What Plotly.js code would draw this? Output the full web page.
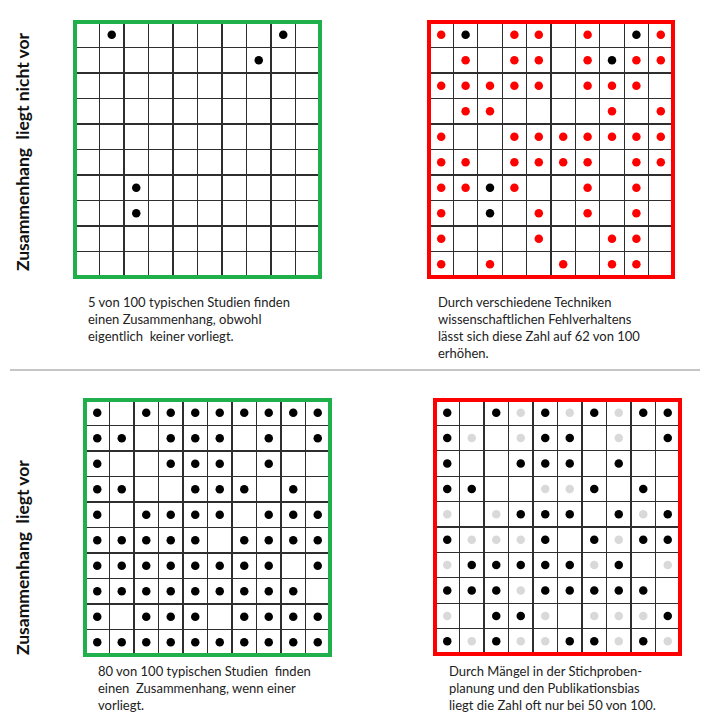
<!DOCTYPE html>
<html>
<head>
<meta charset="utf-8">
<script src="https://cdn.plot.ly/plotly-3.0.1.min.js"></script>
<style>html,body{margin:0;padding:0;background:#fff;}#chart{width:714px;height:725px;}</style>
</head>
<body>
<div id="chart"></div>
<script>
// Cell codes: "." empty, "B" black dot, "R" red dot, "G" grey dot (rows top to bottom)
const gridNoEffectTypical = [
  ".B......B.",
  ".......B..",
  "..........",
  "..........",
  "..........",
  "..........",
  "..B.......",
  "..B.......",
  "..........",
  ".........."
];
const gridNoEffectMisconduct = [
  "RB.RR.R.BR",
  ".R.RR.RBRR",
  "RRRRR.RRR.",
  ".RR....R.R",
  "R..RRRRRRR",
  "RR.RRRR.RR",
  "RRBR..R.R.",
  "R.B.R.R.R.",
  "R...R..RR.",
  "R.R..R.RR."
];
const gridEffectTypical = [
  "B.BBBBBBBB",
  "BB.BBB.B.B",
  "B..BBB.B..",
  "BB..BBB.B.",
  "B.BBBB.BBB",
  "BBBBB.BBBB",
  "BBBBBBBB.B",
  "BBBBBBBBB.",
  "B.BBB.BBBB",
  "BBBBBBBBBB"
];
const gridEffectLowPower = [
  "B.BGBGBGBB",
  "BG.GBB.G.B",
  "B..BBB.B..",
  "BB..GGB.B.",
  "G.GBBB.BGB",
  "BGGGB.BGBB",
  "GBBBBBGB.G",
  "BBBGBBBBB.",
  "G.BBG.GGGB",
  "BGBGGBBGBG"
];

const rowLabels = ["Zusammenhang  liegt nicht vor", "Zusammenhang  liegt vor"];
const captionTopLeft = ["5 von 100 typischen Studien finden", "einen Zusammenhang, obwohl", "eigentlich  keiner vorliegt."];
const captionTopRight = ["Durch verschiedene Techniken", "wissenschaftlichen Fehlverhaltens", "lässt sich diese Zahl auf 62 von 100", "erhöhen."];
const captionBottomLeft = ["80 von 100 typischen Studien  finden", "einen  Zusammenhang, wenn einer", "vorliegt."];
const captionBottomRight = ["Durch Mängel in der Stichproben-", "planung und den Publikationsbias", "liegt die Zahl oft nur bei 50 von 100."];

const W = 714, H = 725;
// outer pixel box of each framed grid: [left, top, right, bottom]
const panels = [
  {grid: gridNoEffectTypical, box: [73, 20, 322, 279], frame: "#1fb04c"},
  {grid: gridNoEffectMisconduct, box: [427, 20, 675, 279], frame: "#ff0000"},
  {grid: gridEffectTypical, box: [83, 398, 332, 657], frame: "#1fb04c"},
  {grid: gridEffectLowPower, box: [433, 398, 682, 656], frame: "#ff0000"}
];
const dotColors = {B: "#000000", R: "#ff0000", G: "#d9d9d9"};
const frameW = 4;

const traces = [];
const layout = {
  width: W, height: H,
  margin: {l: 0, r: 0, t: 0, b: 0},
  paper_bgcolor: "#ffffff", plot_bgcolor: "#ffffff",
  showlegend: false,
  shapes: [], annotations: []
};

panels.forEach((p, i) => {
  const n = i + 1;
  const xa = n === 1 ? "x" : "x" + n;
  const ya = n === 1 ? "y" : "y" + n;
  const inset = frameW / 2;
  const l = p.box[0] + inset, t = p.box[1] + inset, r = p.box[2] - inset, b = p.box[3] - inset;
  const axX = {
    domain: [l / W, r / W], range: [0, 10], anchor: ya,
    showgrid: true, gridcolor: "#2e2e2e", gridwidth: 1.4, dtick: 1, tick0: 0,
    zeroline: false, showticklabels: false, ticks: "", showline: false, fixedrange: true
  };
  const axY = {
    domain: [1 - b / H, 1 - t / H], range: [10, 0], anchor: xa,
    showgrid: true, gridcolor: "#2e2e2e", gridwidth: 1.4, dtick: 1, tick0: 0,
    zeroline: false, showticklabels: false, ticks: "", showline: false, fixedrange: true
  };
  layout[n === 1 ? "xaxis" : "xaxis" + n] = axX;
  layout[n === 1 ? "yaxis" : "yaxis" + n] = axY;

  Object.keys(dotColors).forEach(code => {
    const xs = [], ys = [];
    p.grid.forEach((row, rr) => {
      row.split("").forEach((ch, c) => {
        if (ch === code) { xs.push(c + 0.5); ys.push(rr + 0.5); }
      });
    });
    if (xs.length) {
      traces.push({
        type: "scatter", mode: "markers", x: xs, y: ys, xaxis: xa, yaxis: ya,
        marker: {color: dotColors[code], size: 8.5, line: {width: 0}},
        hoverinfo: "skip", cliponaxis: false
      });
    }
  });

  layout.shapes.push({
    type: "rect", xref: "paper", yref: "paper",
    x0: l / W, x1: r / W, y0: 1 - b / H, y1: 1 - t / H,
    line: {color: p.frame, width: frameW}, layer: "above"
  });
});

// separator line
layout.shapes.push({
  type: "line", xref: "paper", yref: "paper",
  x0: 10 / W, x1: 700 / W, y0: 1 - 370 / H, y1: 1 - 370 / H,
  line: {color: "#8c8c8c", width: 1}
});

const labelFont = {family: "Lato, 'Open Sans', sans-serif", size: 17.5, color: "#111"};
layout.annotations.push({
  xref: "paper", yref: "paper", x: 22 / W, y: 1 - 152 / H, xanchor: "center", yanchor: "middle",
  text: "<b>" + rowLabels[0] + "</b>", textangle: -90, showarrow: false, font: labelFont
});
layout.annotations.push({
  xref: "paper", yref: "paper", x: 22 / W, y: 1 - 558 / H, xanchor: "center", yanchor: "middle",
  text: "<b>" + rowLabels[1] + "</b>", textangle: -90, showarrow: false, font: labelFont
});

const capFont = {family: "Lato, 'Open Sans', sans-serif", size: 13, color: "#222"};
function caption(lines, xpx, ypx) {
  layout.annotations.push({
    xref: "paper", yref: "paper", x: xpx / W, y: 1 - ypx / H, xanchor: "left", yanchor: "top",
    align: "left", text: lines.join("<br>"), showarrow: false, font: capFont
  });
}
caption(captionTopLeft, 86, 292);
caption(captionTopRight, 436, 292);
caption(captionBottomLeft, 96, 661);
caption(captionBottomRight, 447, 661);

Plotly.newPlot("chart", traces, layout, {staticPlot: true, displayModeBar: false});
</script>
</body>
</html>
